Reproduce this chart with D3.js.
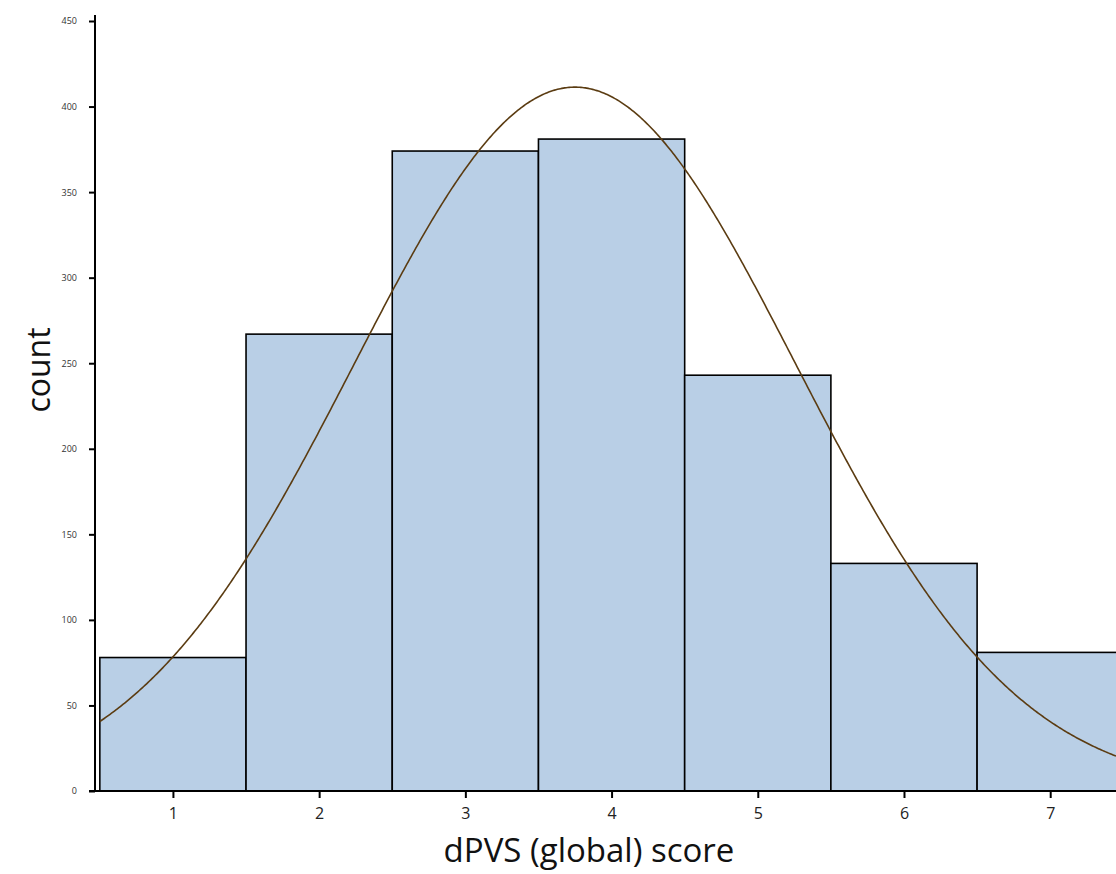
<!DOCTYPE html>
<html><head><meta charset="utf-8">
<script src="https://cdnjs.cloudflare.com/ajax/libs/d3/7.8.5/d3.min.js"></script>
<style>
html,body{margin:0;padding:0;background:#fff;overflow:hidden}
svg{display:block}
</style></head><body>
<svg id="chart" width="1116" height="874"></svg>
<script>
const scores = [1, 2, 3, 4, 5, 6, 7];
const counts = [78, 267, 374, 381, 243, 133, 81];
const yTicks = [0, 50, 100, 150, 200, 250, 300, 350, 400, 450];
const xTicks = [1, 2, 3, 4, 5, 6, 7];
const xTitle = "dPVS (global) score";
const yTitle = "count";

const svg = d3.select("#chart");
const x = d3.scaleLinear().domain([0.467, 7.45]).range([95, 1116]);
const y = d3.scaleLinear().domain([0, 450]).range([791, 21]);

// bars
svg.append("g").selectAll("rect").data(scores).join("rect")
  .attr("x", d => x(d - 0.5))
  .attr("width", d => x(d + 0.5) - x(d - 0.5))
  .attr("y", (d, i) => y(counts[i]))
  .attr("height", (d, i) => y(0) - y(counts[i]))
  .attr("fill", "#b9cfe6")
  .attr("stroke", "#000")
  .attr("stroke-width", 1.6);

// fitted normal curve from the histogram data
const N = d3.sum(counts);
const mean = d3.sum(scores, (s, i) => s * counts[i]) / N;
const sd = Math.sqrt(d3.sum(scores, (s, i) => (s - mean) ** 2 * counts[i]) / N);
const xs = d3.range(0.5, 7.46, 0.01);
const dens = v => N / (sd * Math.sqrt(2 * Math.PI)) * Math.exp(-0.5 * ((v - mean) / sd) ** 2);
svg.append("path")
  .datum(xs)
  .attr("fill", "none")
  .attr("stroke", "#5b3c12")
  .attr("stroke-width", 1.6)
  .attr("d", d3.line().x(v => x(v)).y(v => y(dens(v))));

// y axis
const yAxis = d3.axisLeft(y).tickValues(yTicks).tickSize(6).tickPadding(12).tickSizeOuter(0);
const gy = svg.append("g").attr("transform", "translate(95,0)").call(yAxis);
gy.select(".domain").remove();
gy.selectAll(".tick line").attr("stroke", "#000").attr("stroke-width", 2);
gy.selectAll(".tick text").attr("font-family", "'Open Sans', sans-serif").attr("font-size", 9).attr("fill", "#333");
svg.append("line").attr("x1", 95).attr("x2", 95).attr("y1", 15).attr("y2", 792)
  .attr("stroke", "#000").attr("stroke-width", 2);

// x axis
const xAxis = d3.axisBottom(x).tickValues(xTicks).tickFormat(d3.format("d"))
  .tickSize(7).tickPadding(10).tickSizeOuter(0);
const gx = svg.append("g").attr("transform", "translate(0,791)").call(xAxis);
gx.select(".domain").remove();
gx.selectAll(".tick line").attr("stroke", "#000").attr("stroke-width", 2);
gx.selectAll(".tick text").attr("font-family", "'Open Sans', sans-serif").attr("font-size", 16).attr("fill", "#222");
svg.append("line").attr("x1", 89).attr("x2", 1116).attr("y1", 791).attr("y2", 791)
  .attr("stroke", "#000").attr("stroke-width", 2);

// titles
svg.append("text").attr("x", 589).attr("y", 862).attr("text-anchor", "middle")
  .attr("font-family", "'Open Sans', sans-serif").attr("font-size", 33).attr("fill", "#111")
  .text(xTitle);
svg.append("text").attr("transform", "translate(50,370) rotate(-90)").attr("text-anchor", "middle")
  .attr("font-family", "'Open Sans', sans-serif").attr("font-size", 32).attr("fill", "#111")
  .text(yTitle);
</script></body></html>
